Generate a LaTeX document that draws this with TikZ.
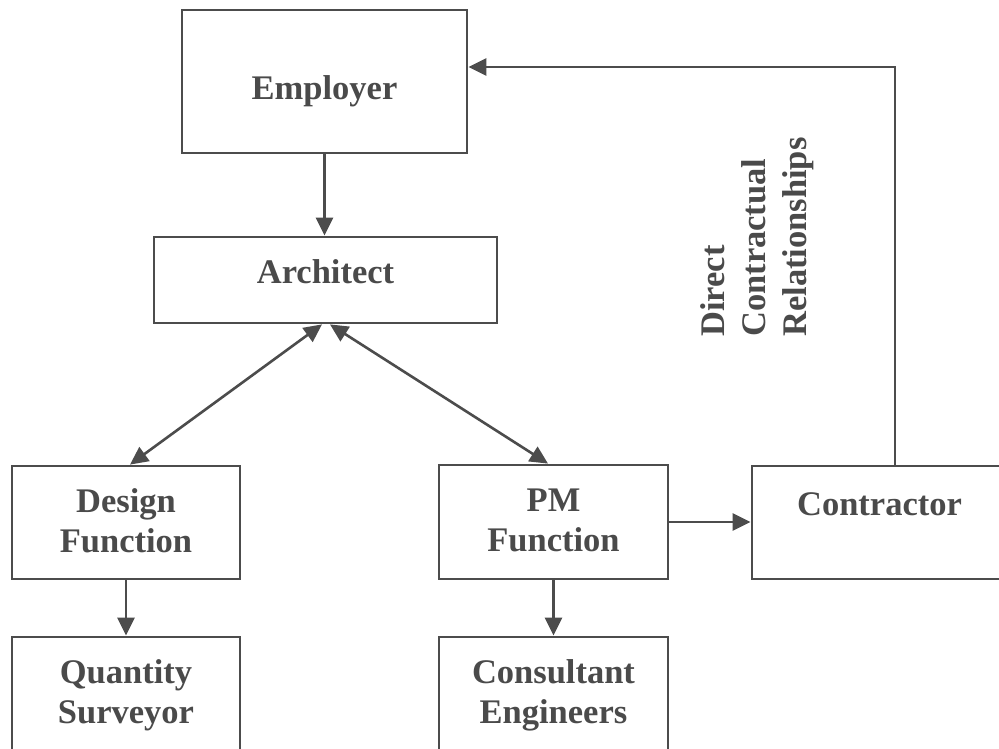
\documentclass[tikz,border=0pt]{standalone}
\usepackage{fontspec}
\setmainfont{Liberation Serif}
\usetikzlibrary{arrows.meta}
\definecolor{ink}{gray}{0.30}
\definecolor{txt}{gray}{0.29}
\tikzset{
  box/.style={draw=ink, line width=2.8pt, rectangle, inner sep=0pt, fill=white},
  lbl/.style={inner sep=0pt, text=txt, font=\bfseries\fontsize{34.5}{40}\selectfont, align=center},
  arr/.style={draw=ink, line width=2.6pt, -{Triangle[length=18pt,width=17pt]}},
  darr/.style={draw=ink, line width=2.6pt, {Triangle[length=18pt,width=17pt]}-{Triangle[length=18pt,width=17pt]}}
}
\begin{document}
\begin{tikzpicture}[x=1pt,y=-1pt]
\useasboundingbox (0,0) rectangle (999,749);
\begin{scope}
\clip (0,0) rectangle (999,749);
\fill[white] (0,0) rectangle (999,749);
% boxes
\node[box, minimum width=285pt, minimum height=143pt] (emp) at (324.5,81.5) {};
\node[box, minimum width=343pt, minimum height=86pt] (arch) at (325.5,280) {};
\node[box, minimum width=228pt, minimum height=113pt] (dsg) at (126,522.5) {};
\node[box, minimum width=229pt, minimum height=114pt] (pm) at (553.5,522) {};
\node[box, minimum width=255pt, minimum height=113pt] (con) at (879.5,522.5) {};
\node[box, minimum width=228pt, minimum height=140pt] (qs) at (126,707) {};
\node[box, minimum width=229pt, minimum height=140pt] (ce) at (553.5,707) {};
% texts
\node[lbl, anchor=base] (tEmp) at (324.5,100) {Employer};
\node[lbl, anchor=base] (tArch) at (325.5,283) {Architect};
\node[lbl] (tDsg) at (126,520.3) {Design\\Function};
\node[lbl] (tPm) at (553.5,520.3) {PM\\Function};
\node[lbl, anchor=base] (tCon) at (879.5,515) {Contractor};
\node[lbl] (tQs) at (126,695) {Quantity\\Surveyor};
\node[lbl] (tCe) at (553.5,695) {Consultant\\Engineers};
\node[lbl, align=left, rotate=90, anchor=west, font=\bfseries\fontsize{34.5}{41}\selectfont] (tRel) at (757.3,337) {Direct\\Contractual\\Relationships};
% connectors
\draw[arr] (emp.south) -- (emp.south |- arch.north);
\draw[darr] ([xshift=4pt]dsg.north) -- ([xshift=-3.5pt]arch.south);
\draw[darr] ([xshift=4.5pt]arch.south) -- ([xshift=-5.5pt]pm.north);
\draw[arr] (dsg.south) -- (qs.north);
\draw[arr] (pm.south) -- (ce.north);
\draw[arr] (pm.east) -- (pm.east -| con.west);
\coordinate (c1) at (895,67);
\draw[arr] (con.north -| c1) -- (c1) -- (emp.east |- c1);
\end{scope}
\end{tikzpicture}
\end{document}
